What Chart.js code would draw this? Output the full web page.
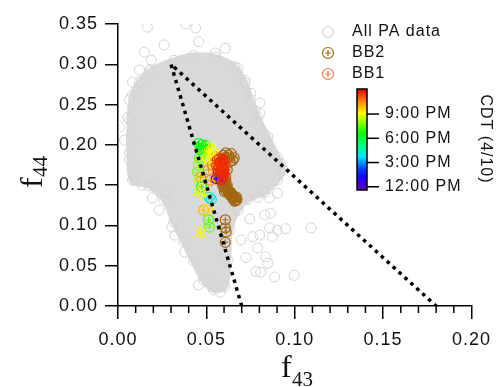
<!DOCTYPE html>
<html>
<head>
<meta charset="utf-8">
<script src="https://cdn.jsdelivr.net/npm/chart.js@4.4.0/dist/chart.umd.min.js"></script>
<style>
  html, body { margin: 0; padding: 0; background: #fff; }
</style>
</head>
<body>
<canvas id="f44chart" width="499" height="387"></canvas>
<script>
// dense core of "All PA data" (outline, f43 / f44)
const cloudX = [0.0182, 0.0316, 0.0428, 0.0551, 0.0662, 0.0718, 0.0752, 0.0791, 0.0847, 0.0902, 0.0936, 0.0902, 0.0830, 0.0735, 0.0679, 0.0634, 0.0623, 0.0606, 0.0540, 0.0484, 0.0428, 0.0372, 0.0316, 0.0261, 0.0177, 0.0082, 0.0065, 0.0065, 0.0082, 0.0121, 0.0182];
const cloudY = [0.293, 0.305, 0.311, 0.309, 0.297, 0.277, 0.256, 0.234, 0.210, 0.185, 0.169, 0.156, 0.141, 0.132, 0.119, 0.094, 0.057, 0.024, 0.020, 0.032, 0.055, 0.079, 0.104, 0.132, 0.149, 0.156, 0.181, 0.231, 0.262, 0.278, 0.293];

// sparse "All PA data" points around the core
const paX = [0.0166, 0.0383, 0.0439, 0.0606, 0.0551, 0.0149, 0.0188, 0.0009, 0.0082, 0.0065, 0.0054, 0.0076, 0.0065, 0.0104, 0.0093, 0.0138, 0.0194, 0.0272, 0.0305, 0.0322, 0.0378, 0.0752, 0.0802, 0.0802, 0.0847, 0.0919, 0.0718, 0.0774, 0.0746, 0.0830, 0.0863, 0.0858, 0.0902, 0.0947, 0.1092, 0.0763, 0.0802, 0.0696, 0.0874, 0.0791, 0.0724, 0.0835, 0.0847, 0.0780, 0.0807, 0.0886, 0.0997, 0.0791, 0.0858, 0.0902, 0.0679, 0.0456, 0.0261, 0.0121, 0.0037, 0.0233, 0.0456, 0.0579];
const paY = [0.346, 0.350, 0.345, 0.320, 0.314, 0.315, 0.305, 0.222, 0.278, 0.256, 0.234, 0.210, 0.190, 0.172, 0.156, 0.150, 0.134, 0.140, 0.098, 0.088, 0.067, 0.264, 0.252, 0.239, 0.197, 0.177, 0.280, 0.243, 0.108, 0.113, 0.115, 0.097, 0.094, 0.096, 0.097, 0.086, 0.088, 0.082, 0.086, 0.072, 0.060, 0.061, 0.053, 0.043, 0.042, 0.036, 0.038, 0.135, 0.134, 0.140, 0.295, 0.328, 0.324, 0.293, 0.206, 0.119, 0.026, 0.017];

// BB1, coloured by CDT hour on 4/10
const bb1X = [0.0556, 0.0573, 0.0456, 0.0473, 0.0484, 0.0495, 0.0467, 0.0478, 0.0461, 0.0512, 0.0528, 0.0523, 0.0506, 0.0540, 0.0517, 0.0551, 0.0512, 0.0534, 0.0467, 0.0523, 0.0456, 0.0450, 0.0461, 0.0473, 0.0456, 0.0489, 0.0528, 0.0517, 0.0484, 0.0506, 0.0512, 0.0517, 0.0467, 0.0562, 0.0579, 0.0596, 0.0573, 0.0590, 0.0568, 0.0584, 0.0601, 0.0579, 0.0556, 0.0585, 0.0575, 0.0595, 0.0565, 0.0588, 0.0565, 0.0582, 0.0595, 0.0600, 0.0575, 0.0590];
const bb1Y = [0.158, 0.160, 0.202, 0.200, 0.196, 0.199, 0.194, 0.191, 0.184, 0.197, 0.194, 0.187, 0.184, 0.191, 0.179, 0.185, 0.169, 0.175, 0.160, 0.156, 0.175, 0.166, 0.156, 0.148, 0.141, 0.138, 0.132, 0.135, 0.119, 0.120, 0.107, 0.098, 0.091, 0.181, 0.177, 0.180, 0.172, 0.170, 0.166, 0.163, 0.174, 0.159, 0.175, 0.168, 0.178, 0.165, 0.170, 0.175, 0.161, 0.157, 0.160, 0.168, 0.183, 0.182];
const bb1Time = [13, 14, 18.5, 18.5, 18.5, 18.5, 18.5, 19.5, 19.5, 21, 21, 21, 21, 21, 21, 22.5, 22.5, 22.5, 22.5, 22.5, 20, 19.8, 20.5, 19, 20.5, 21, 16, 16.2, 22, 21.5, 19.5, 19.5, 21.2, 23.5, 23.5, 23.5, 23.5, 23.5, 23.5, 23.5, 23.5, 23.5, 23.5, 23.6, 23.6, 23.6, 23.6, 23.6, 23.7, 23.7, 23.7, 23.7, 23.7, 23.7];

// BB2
const bb2X = [0.0596, 0.0618, 0.0634, 0.0657, 0.0640, 0.0625, 0.0650, 0.0610, 0.0607, 0.0618, 0.0590, 0.0596, 0.0601, 0.0612, 0.0629, 0.0646, 0.0662, 0.0673, 0.0618, 0.0605, 0.0620, 0.0638, 0.0655, 0.0668, 0.0650, 0.0610, 0.0595, 0.0600, 0.0606, 0.0615, 0.0625, 0.0633, 0.0642, 0.0651, 0.0660, 0.0670, 0.0602, 0.0592, 0.0607, 0.0607, 0.0612, 0.0607];
const bb2Y = [0.187, 0.184, 0.179, 0.184, 0.189, 0.187, 0.181, 0.190, 0.161, 0.169, 0.156, 0.151, 0.146, 0.143, 0.139, 0.136, 0.134, 0.132, 0.150, 0.153, 0.145, 0.141, 0.137, 0.131, 0.133, 0.158, 0.160, 0.155, 0.149, 0.147, 0.143, 0.138, 0.139, 0.135, 0.130, 0.135, 0.142, 0.149, 0.107, 0.097, 0.092, 0.079];

// triangle guide
const triX = [0.07, 0.03, 0.18];
const triY = [0.00, 0.30, 0.00];

// colour scale
const cbMin = 11.6, cbMax = 24.1;
const cbTicks = [12, 15, 18, 21];
const cbLabels = ['12:00 PM', '3:00 PM', '6:00 PM', '9:00 PM'];

const rainbow = [
  [0, [100, 0, 180]], [0.12, [30, 0, 255]], [0.2, [0, 60, 255]], [0.33, [0, 230, 255]],
  [0.45, [0, 255, 120]], [0.56, [0, 255, 0]], [0.76, [255, 255, 0]], [0.88, [255, 130, 0]], [1, [230, 0, 0]]
];

function cmap(t) {
  let f = Math.min(1, Math.max(0, (t - cbMin) / (cbMax - cbMin)));
  for (let i = 1; i < rainbow.length; i++) {
    if (f <= rainbow[i][0]) {
      const [f0, c0] = rainbow[i - 1], [f1, c1] = rainbow[i];
      const k = (f - f0) / (f1 - f0);
      const c = c0.map((v, j) => Math.round(v + (c1[j] - v) * k));
      return `rgb(${c[0]},${c[1]},${c[2]})`;
    }
  }
  return 'rgb(230,0,0)';
}

const pts = (xs, ys) => xs.map((x, i) => ({ x: x, y: ys[i] }));

const GRAY = '#d9d9d9';
const BROWN = '#a3670f';

const decor = {
  id: 'decor',
  beforeDraw(chart) {
    chart.ctx.letterSpacing = '1px';
  },
  afterDraw(chart) {
    const ctx = chart.ctx;
    const x = chart.scales.x, y = chart.scales.y;
    ctx.save();
    ctx.letterSpacing = '1px';
    ctx.strokeStyle = '#000';
    ctx.lineWidth = 1.5;

    // minor ticks on f43 axis
    for (let i = 1; i < 20; i++) {
      if (i % 5 === 0) continue;
      const px = x.getPixelForValue(i / 100);
      ctx.beginPath();
      ctx.moveTo(px, y.bottom);
      ctx.lineTo(px, y.bottom + 7);
      ctx.stroke();
    }

    // legend
    ctx.font = '16px "Liberation Sans", Arial, sans-serif';
    ctx.textBaseline = 'middle';
    ctx.textAlign = 'left';
    ctx.fillStyle = '#111';
    const items = [
      { label: 'All PA data', color: '#cfcfcf', plus: false, yy: 32 },
      { label: 'BB2', color: BROWN, plus: true, yy: 53 },
      { label: 'BB1', color: '#f4784a', plus: true, yy: 74 }
    ];
    items.forEach(it => {
      ctx.strokeStyle = it.color;
      ctx.lineWidth = 1.2;
      ctx.beginPath();
      ctx.arc(328, it.yy, 5.5, 0, Math.PI * 2);
      ctx.stroke();
      if (it.plus) {
        ctx.beginPath();
        ctx.moveTo(325, it.yy); ctx.lineTo(331, it.yy);
        ctx.moveTo(328, it.yy - 3); ctx.lineTo(328, it.yy + 3);
        ctx.stroke();
      }
      ctx.fillText(it.label, 352, it.yy);
    });

    // colour bar
    const cbL = 357, cbR = 367, cbT = 89, cbB = 190;
    const grad = ctx.createLinearGradient(0, cbB, 0, cbT);
    rainbow.forEach(([f, c]) => grad.addColorStop(f, `rgb(${c[0]},${c[1]},${c[2]})`));
    ctx.fillStyle = grad;
    ctx.fillRect(cbL, cbT, cbR - cbL, cbB - cbT);
    ctx.strokeStyle = '#000';
    ctx.lineWidth = 1.5;
    ctx.strokeRect(cbL, cbT, cbR - cbL, cbB - cbT);
    ctx.fillStyle = '#111';
    cbTicks.forEach((t, i) => {
      const py = cbB - (t - cbMin) / (cbMax - cbMin) * (cbB - cbT);
      ctx.beginPath();
      ctx.moveTo(cbR, py); ctx.lineTo(cbR + 12, py);
      ctx.stroke();
      ctx.fillText(cbLabels[i], cbR + 18, py);
    });
    ctx.save();
    ctx.translate(485, 139);
    ctx.rotate(Math.PI / 2);
    ctx.textAlign = 'center';
    ctx.fillText('CDT (4/10)', 0, 0);
    ctx.restore();

    // axis titles with subscripts
    ctx.letterSpacing = '0px';
    ctx.textBaseline = 'alphabetic';
    ctx.textAlign = 'left';
    ctx.fillStyle = '#111';
    ctx.font = '32px "Liberation Serif", "Times New Roman", serif';
    ctx.fillText('f', 281, 377);
    ctx.font = '21px "Liberation Serif", "Times New Roman", serif';
    ctx.fillText('43', 292, 386);

    ctx.save();
    ctx.translate(42, 188);
    ctx.rotate(-Math.PI / 2);
    ctx.font = '32px "Liberation Serif", "Times New Roman", serif';
    ctx.fillText('f', 0, 0);
    ctx.font = '21px "Liberation Serif", "Times New Roman", serif';
    ctx.fillText('44', 11, 5);
    ctx.restore();

    ctx.restore();
  }
};

new Chart(document.getElementById('f44chart'), {
  type: 'scatter',
  data: {
    datasets: [
      {
        label: 'triangle',
        data: pts(triX, triY),
        showLine: true,
        borderColor: '#000',
        borderWidth: 3.5,
        borderDash: [3.5, 4.5],
        borderCapStyle: 'butt',
        pointRadius: 0,
        fill: false,
        order: 0
      },
      {
        label: 'BB1 cross',
        data: pts(bb1X, bb1Y),
        pointStyle: 'cross',
        pointRadius: 3,
        borderWidth: 1,
        pointBorderColor: c => cmap(bb1Time[c.dataIndex]),
        order: 1
      },
      {
        label: 'BB1',
        data: pts(bb1X, bb1Y),
        pointStyle: 'circle',
        pointRadius: 5,
        borderWidth: 1.2,
        pointBackgroundColor: 'rgba(0,0,0,0)',
        pointBorderColor: c => cmap(bb1Time[c.dataIndex]),
        order: 2
      },
      {
        label: 'BB2 cross',
        data: pts(bb2X, bb2Y),
        pointStyle: 'cross',
        pointRadius: 3,
        borderWidth: 1,
        pointBorderColor: BROWN,
        order: 3
      },
      {
        label: 'BB2',
        data: pts(bb2X, bb2Y),
        pointStyle: 'circle',
        pointRadius: 5,
        borderWidth: 1.2,
        pointBackgroundColor: 'rgba(0,0,0,0)',
        pointBorderColor: BROWN,
        order: 4
      },
      {
        label: 'All PA data',
        data: pts(paX, paY),
        pointStyle: 'circle',
        pointRadius: 5,
        borderWidth: 1,
        pointBackgroundColor: 'rgba(0,0,0,0)',
        pointBorderColor: '#d4d4d4',
        order: 5
      },
      {
        label: 'All PA core',
        data: pts(cloudX, cloudY),
        showLine: true,
        fill: 'shape',
        tension: 0.35,
        backgroundColor: GRAY,
        borderColor: GRAY,
        borderWidth: 6,
        pointRadius: 5,
        pointBorderWidth: 1,
        pointBackgroundColor: 'rgba(0,0,0,0)',
        pointBorderColor: '#d4d4d4',
        order: 6
      }
    ]
  },
  options: {
    responsive: false,
    animation: false,
    events: [],
    devicePixelRatio: 1,
    layout: { padding: { top: 24, right: 22, left: 0, bottom: 0 } },
    plugins: {
      legend: { display: false },
      tooltip: { enabled: false }
    },
    scales: {
      x: {
        type: 'linear',
        min: 0,
        max: 0.2,
        afterFit: s => { s.height = 81; },
        ticks: {
          stepSize: 0.05,
          padding: 10,
          color: '#111',
          font: { family: '"Liberation Sans", Arial, sans-serif', size: 18 },
          callback: v => v.toFixed(2),
          maxRotation: 0
        },
        grid: { drawOnChartArea: false, drawTicks: true, tickLength: 13, color: '#000', lineWidth: 1.5 },
        border: { display: true, color: '#000', width: 1.5 }
      },
      y: {
        type: 'linear',
        min: 0,
        max: 0.35,
        afterFit: s => { s.width = 118; },
        ticks: {
          stepSize: 0.05,
          padding: 7,
          color: '#111',
          font: { family: '"Liberation Sans", Arial, sans-serif', size: 18 },
          callback: v => v.toFixed(2)
        },
        grid: { drawOnChartArea: false, drawTicks: true, tickLength: 13, color: '#000', lineWidth: 1.5 },
        border: { display: true, color: '#000', width: 1.5 }
      }
    }
  },
  plugins: [decor]
});
</script>
</body>
</html>
